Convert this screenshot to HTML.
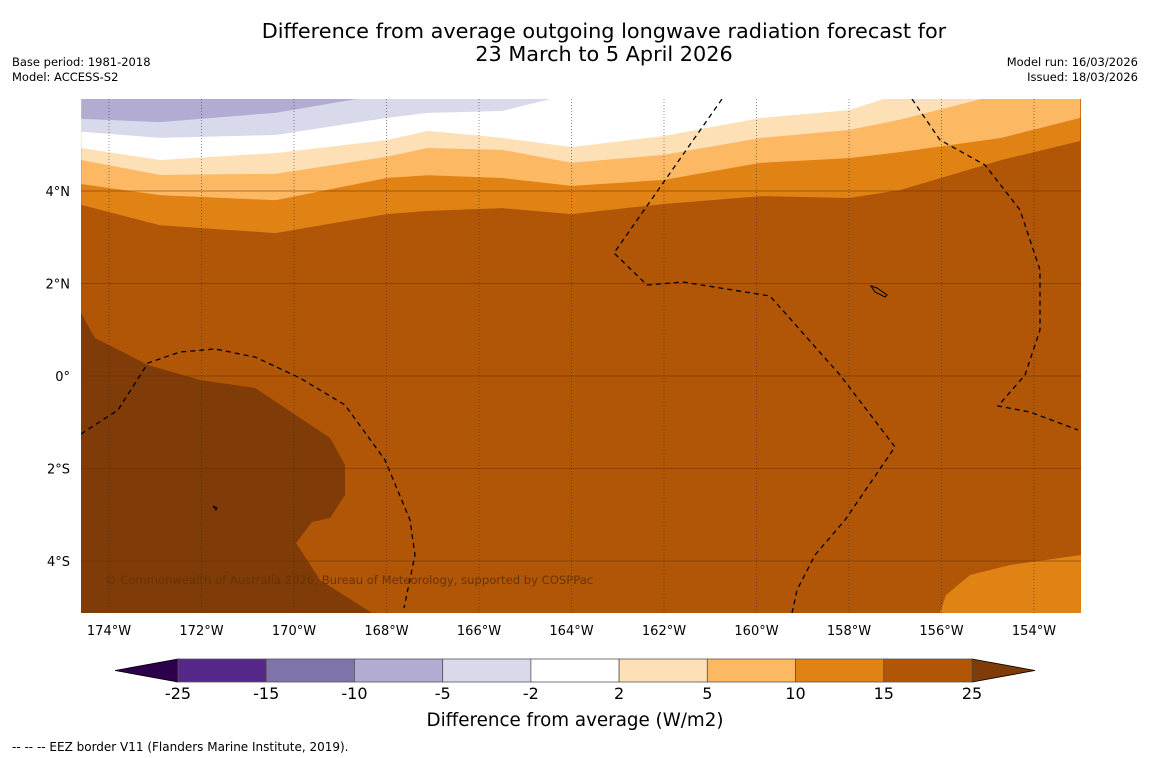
<!DOCTYPE html>
<html><head><meta charset="utf-8"><style>
body{margin:0;background:#fff;width:1150px;height:758px;overflow:hidden;font-family:"DejaVu Sans","Liberation Sans",sans-serif;}
svg{position:absolute;left:0;top:0;}
</style></head><body>
<svg id="chart" width="1150" height="758" viewBox="0 0 1150 758">
<text x="604" y="38" text-anchor="middle" font-size="20.8" fill="#000">Difference from average outgoing longwave radiation forecast for</text>
<text x="604" y="61" text-anchor="middle" font-size="20.8" fill="#000">23 March to 5 April 2026</text>
<text x="12" y="66" font-size="11.5">Base period: 1981-2018</text>
<text x="12" y="81" font-size="11.5">Model: ACCESS-S2</text>
<text x="1138" y="66" font-size="11.5" text-anchor="end">Model run: 16/03/2026</text>
<text x="1138" y="81" font-size="11.5" text-anchor="end">Issued: 18/03/2026</text>
<defs><clipPath id="mapclip"><rect x="81" y="99" width="1000" height="514"/></clipPath></defs>
<g id="map" clip-path="url(#mapclip)"></g>
<g id="axes"></g>
<g id="cbar"></g>
<text x="575" y="726" text-anchor="middle" font-size="18.3">Difference from average (W/m2)</text>
<text x="12" y="751" font-size="12">--  --  -- EEZ border V11 (Flanders Marine Institute, 2019).</text>
</svg>
<script>
// Band boundaries: latitude of the lower edge of each band at each longitude
const lons = [-174.6,-172.9,-170.4,-168.0,-167.1,-165.5,-164.0,-162.0,-159.9,-158.0,-156.9,-154.7,-153.0];
const edge10to15 = [3.70,3.26,3.09,3.50,3.57,3.63,3.50,3.72,3.89,3.85,4.02,4.67,5.08];
const edge5to10  = [4.15,3.91,3.80,4.28,4.34,4.28,4.11,4.24,4.61,4.71,4.84,5.15,5.58];
const edge2to5   = [4.67,4.35,4.37,4.74,4.93,4.89,4.61,4.78,5.15,5.32,5.54,6.1,6.1];
const edgeWhite  = [4.93,4.67,4.82,5.10,5.30,5.15,4.95,5.19,5.58,5.75,6.1,6.1,6.1];
const edgeM5     = [5.28,5.15,5.21,5.58,5.69,5.73,6.1,6.1,6.1,6.1,6.1,6.1,6.1];
const edgeM10    = [5.56,5.49,5.69,6.1,6.1,6.1,6.1,6.1,6.1,6.1,6.1,6.1,6.1];
const levels = [-25,-15,-10,-5,-2,2,5,10,15,25];
const levelColors = ["#542788","#8073ac","#b2abd2","#d8daeb","#ffffff","#fee0b6","#fdb863","#e08214","#b05606"];
const lonTicks = [-174,-172,-170,-168,-166,-164,-162,-160,-158,-156,-154];
const latTicks = [4,2,0,-2,-4];

const NS="http://www.w3.org/2000/svg";
const X = lon => 109 + (lon + 174) * 46.25;
const Y = lat => 376 - lat * 46.25;
function mk(tag, attrs, parent){const e=document.createElementNS(NS,tag);for(const k in attrs)e.setAttribute(k,attrs[k]);parent.appendChild(e);return e;}
const map=document.getElementById('map');
let r=mk('rect',{x:81,y:99,width:1000,height:514,fill:"#b05606"},map);


let dk=mk('polygon',{points:"81,313 95,338 148,365 200,380 255,388 300,418 330,438 345,465 345,495 330,518 312,522 296,543 320,580 372,613 81,613",fill:"#7f3b08"},map);


let br=mk('polygon',{points:"940,613 946,595 970,575 1010,565 1081,555 1081,613",fill:"#e08214"},map);


const bands=[[edge10to15,"#e08214","band-10-to-15"],[edge5to10,"#fdb863","band-5-to-10"],[edge2to5,"#fee0b6","band-2-to-5"],[edgeWhite,"#ffffff","band-neutral"],[edgeM5,"#d8daeb","band-minus-5-to-minus-2"],[edgeM10,"#b2abd2","band-minus-10-to-minus-5"]];
bands.forEach(b=>{
  let pts=lons.map((l,i)=>X(l)+","+Y(b[0][i]));
  pts.push(X(lons[lons.length-1])+","+Y(6.3));pts.push(X(lons[0])+","+Y(6.3));
  const p=mk('polygon',{points:pts.join(" "),fill:b[1]},map);
  
  
});
latTicks.forEach(t=>{const l=mk('line',{x1:81,x2:1081,y1:Y(t),y2:Y(t),stroke:"#6b3000","stroke-width":0.8,"stroke-opacity":0.7},map);

});
lonTicks.forEach(t=>{const l=mk('line',{x1:X(t),x2:X(t),y1:99,y2:613,stroke:"#333","stroke-width":0.8,"stroke-dasharray":"1,2","stroke-opacity":0.7},map);

});
const eez=["M722,99 L614,253 L647,285 L683,282 L770,296 L840,375 L895,447 L845,520 L815,555 L797,590 L792,613",
"M912,99 L940,140 L985,165 L1020,210 L1040,270 L1040,330 L1025,375 L998,406 L1030,412 L1078,430",
"M81,434 L118,410 L148,363 L180,352 L215,349 L255,357 L300,378 L345,405 L385,460 L410,520 L415,555 L404,608"];
eez.forEach(d=>{const p=mk('path',{d:d,fill:"none",stroke:"#000","stroke-width":1.3,"stroke-dasharray":"5,4"},map);

});
const isl=mk('path',{d:"M871,286 l6,2 l10,7 l-2,2 l-10,-5 z M213,506 l4,2 l-1,2 z",fill:"none",stroke:"#000","stroke-width":1},map);


const cp=mk('text',{x:105,y:584,"font-size":11.6,fill:"#6a3305"},map);
cp.textContent="© Commonwealth of Australia 2026, Bureau of Meteorology, supported by COSPPac";


const axes=document.getElementById('axes');
const fmtLon=t=>Math.abs(t)+"°W";
const fmtLat=t=>t===0?"0°":Math.abs(t)+"°"+(t>0?"N":"S");
lonTicks.forEach(t=>{const e=mk('text',{x:X(t),y:635,"text-anchor":"middle","font-size":13},axes);e.textContent=fmtLon(t);

});
latTicks.forEach(t=>{const e=mk('text',{x:70,y:Y(t)+5,"text-anchor":"end","font-size":13},axes);e.textContent=fmtLat(t);

});
const cb=document.getElementById('cbar');
const cx0=178,cx1=972,cy=659,ch=23,w=(cx1-cx0)/levelColors.length;
const lt=mk('polygon',{points:`${cx0},${cy} 115,${cy+ch/2} ${cx0},${cy+ch}`,fill:"#2d004b",stroke:"#000","stroke-width":0.8},cb);


const rt=mk('polygon',{points:`${cx1},${cy} 1035,${cy+ch/2} ${cx1},${cy+ch}`,fill:"#7f3b08",stroke:"#000","stroke-width":0.8},cb);


levelColors.forEach((c,i)=>{const e=mk('rect',{x:cx0+i*w,y:cy,width:w,height:ch,fill:c,stroke:"#555","stroke-width":0.8},cb);

});
levels.forEach((v,i)=>{const e=mk('text',{x:cx0+i*w,y:699,"text-anchor":"middle","font-size":16},cb);e.textContent=v;

});
</script>
</body></html>
